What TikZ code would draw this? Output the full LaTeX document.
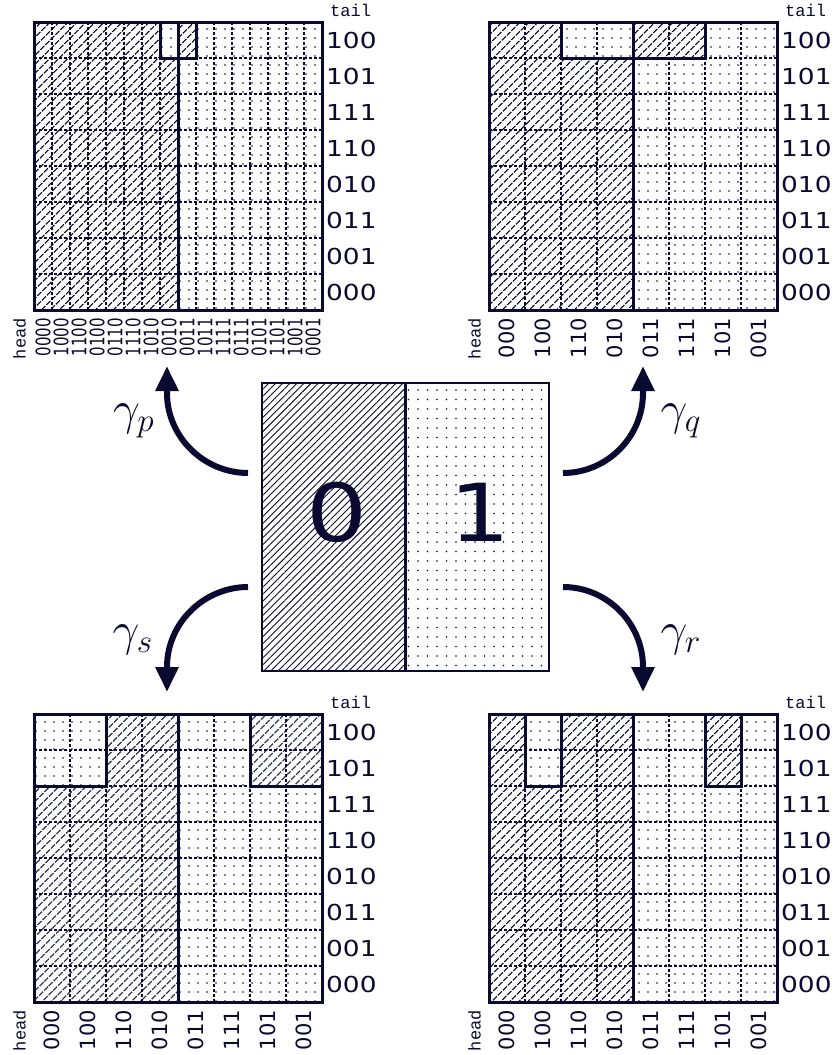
\documentclass[tikz,border=0pt]{standalone}
\usepackage{fontspec}
\setmainfont{DejaVu Sans}
\newfontfamily\codefont{Liberation Mono}
\usetikzlibrary{arrows.meta,patterns.meta,positioning}
\definecolor{ink}{RGB}{10,10,48}

% dashed cell lines of one map: #1 columns of width #2
\newcommand{\cellgrid}[2]{%
  \pgfmathtruncatemacro{\lastcol}{#1-1}%
  \foreach \c in {1,...,\lastcol} \draw[cellline] (#2*\c,0) -- (#2*\c,288);
  \foreach \r in {1,...,7} \draw[cellline] (0,36*\r) -- (288,36*\r);
}
% tail codes down the right side and the two axis names
\newcommand{\tailcodes}[1]{%
  \foreach \t [count=\r from 0] in {100,101,111,110,010,011,001,000}
    \node[rowcode] (#1-tail\r) at (292,36*\r+18) {\scalebox{1.2}[1]{\t}};
  \node[axisname, anchor=base west] (#1-tail) at (296,-6) {tail};
  \node[axisname, rotate=90, anchor=east] (#1-head) at (-14.5,296) {head};
}

\begin{document}
\begin{tikzpicture}[
  x=1pt, y=-1pt,
  cellline/.style={draw=ink, line width=1.1pt, dash pattern=on 3pt off 2pt},
  mapborder/.style={draw=ink, line width=3pt, line join=miter},
  hatchfill/.style={pattern={Lines[angle=45, distance=6.5pt, line width=1.2pt]}, pattern color=ink},
  dotfill/.style={pattern={Dots[distance=9pt, radius=0.9pt]}, pattern color=ink},
  finehatch/.style={pattern={Lines[angle=45, distance=5pt, line width=0.9pt]}, pattern color=ink},
  finedots/.style={pattern={Dots[distance=9.5pt, radius=0.85pt]}, pattern color=ink},
  rowcode/.style={anchor=west, inner sep=0pt, text=ink, font=\fontsize{22}{22}\selectfont},
  colcode/.style={rotate=90, anchor=east, inner sep=0pt, text=ink, font=\fontsize{21}{21}\selectfont},
  quadcode/.style={rotate=90, anchor=east, inner sep=0pt, text=ink, font=\fontsize{20}{20}\selectfont},
  axisname/.style={inner sep=0pt, text=ink, font=\codefont\fontsize{17}{17}\selectfont},
  halfbox/.style={draw=ink, line width=2.8pt, minimum width=143.5pt, minimum height=288pt,
    inner sep=0pt, outer sep=0pt},
  bigdigit/.style={text=ink, inner sep=0pt, font=\fontsize{80}{80}\selectfont},
  flow/.style={draw=ink, line width=6pt, -{Triangle[length=25pt, width=22pt]}},
  rate/.style={text=ink, inner sep=0pt, font=\fontsize{20}{20}\selectfont},
]
  \path[use as bounding box, fill=white] (0,0) rectangle (834,1055);

  % Map p (top left, 4-bit heads)
  \begin{scope}[shift={(34,22)}]
    \path[hatchfill] (0,36) rectangle (144,288) (0,0) rectangle (126,36) (144,0) rectangle (162,36);
    \path[dotfill] (144,36) rectangle (288,288) (126,0) rectangle (144,36) (162,0) rectangle (288,36);
    \cellgrid{16}{18}
    \draw[mapborder] (0,0) rectangle (288,288) (144,0) -- (144,288)
      (126,0) -- (126,36) -- (162,36) -- (162,0);
    \tailcodes{p}
    \foreach \h [count=\c from 0] in {0000,1000,1100,0100,0110,1110,1010,0010,0011,1011,1111,0111,0101,1101,1001,0001}
      \node[quadcode] (p-head\c) at (18*\c+9,296) {\scalebox{0.75}[1]{\h}};
  \end{scope}

  % Map q (top right)
  \begin{scope}[shift={(489,22)}]
    \path[hatchfill] (0,36) rectangle (144,288) (0,0) rectangle (72,36) (144,0) rectangle (216,36);
    \path[dotfill] (144,36) rectangle (288,288) (72,0) rectangle (144,36) (216,0) rectangle (288,36);
    \cellgrid{8}{36}
    \draw[mapborder] (0,0) rectangle (288,288) (144,0) -- (144,288)
      (72,0) -- (72,36) -- (216,36) -- (216,0);
    \tailcodes{q}
    \foreach \h [count=\c from 0] in {000,100,110,010,011,111,101,001}
      \node[colcode] (q-head\c) at (36*\c+18,296) {\h};
  \end{scope}

  % Map s (bottom left)
  \begin{scope}[shift={(34,714)}]
    \path[hatchfill] (0,72) rectangle (144,288) (72,0) rectangle (144,72) (216,0) rectangle (288,72);
    \path[dotfill] (144,72) rectangle (288,288) (0,0) rectangle (72,72) (144,0) rectangle (216,72);
    \cellgrid{8}{36}
    \draw[mapborder] (0,0) rectangle (288,288) (144,0) -- (144,288)
      (0,72) -- (72,72) -- (72,0) (216,0) -- (216,72) -- (288,72);
    \tailcodes{s}
    \foreach \h [count=\c from 0] in {000,100,110,010,011,111,101,001}
      \node[colcode] (s-head\c) at (36*\c+18,296) {\h};
  \end{scope}

  % Map r (bottom right)
  \begin{scope}[shift={(489,714)}]
    \path[hatchfill] (0,72) rectangle (144,288) (0,0) rectangle (36,72) (72,0) rectangle (144,72)
      (216,0) rectangle (252,72);
    \path[dotfill] (144,72) rectangle (288,288) (36,0) rectangle (72,72) (144,0) rectangle (216,72)
      (252,0) rectangle (288,72);
    \cellgrid{8}{36}
    \draw[mapborder] (0,0) rectangle (288,288) (144,0) -- (144,288)
      (36,0) -- (36,72) -- (72,72) -- (72,0) (216,0) -- (216,72) -- (252,72) -- (252,0);
    \tailcodes{r}
    \foreach \h [count=\c from 0] in {000,100,110,010,011,111,101,001}
      \node[colcode] (r-head\c) at (36*\c+18,296) {\h};
  \end{scope}

  % One-bit cell in the middle
  \node[halfbox, finehatch] (zero) at (333.75,527) {};
  \node[halfbox, finedots, right=0pt of zero] (one) {};
  \node[bigdigit] (zero-digit) at ([xshift=3pt, yshift=15pt]zero.center) {\scalebox{1.2}[1]{0}};
  \node[bigdigit] (one-digit) at ([xshift=3pt, yshift=15pt]one.center) {\scalebox{1.2}[1]{1}};

  % Arrows out to the maps
  \coordinate (p-from) at (248,473);
  \coordinate (p-to) at (167,366);
  \coordinate (q-from) at (563,473);
  \coordinate (q-to) at (643,366);
  \coordinate (s-from) at (248,587);
  \coordinate (s-to) at (167,692);
  \coordinate (r-from) at (563,587);
  \coordinate (r-to) at (643,692);
  \draw[flow] (p-from) .. controls +(-44,0) and +(0,44) .. ++(-81,-80) -- (p-to);
  \draw[flow] (q-from) .. controls +(44,0) and +(0,44) .. ++(80,-80) -- (q-to);
  \draw[flow] (s-from) .. controls +(-44,0) and +(0,-44) .. ++(-81,80) -- (s-to);
  \draw[flow] (r-from) .. controls +(44,0) and +(0,-44) .. ++(80,80) -- (r-to);

  % Rate labels
  \node[rate] (rate-p) at (134,421) {\scalebox{2.3}{$\gamma_p$}};
  \node[rate] (rate-q) at (681,421) {\scalebox{2.3}{$\gamma_q$}};
  \node[rate] (rate-s) at (133,640) {\scalebox{2.3}{$\gamma_s$}};
  \node[rate] (rate-r) at (681,640) {\scalebox{2.3}{$\gamma_r$}};
\end{tikzpicture}
\end{document}
